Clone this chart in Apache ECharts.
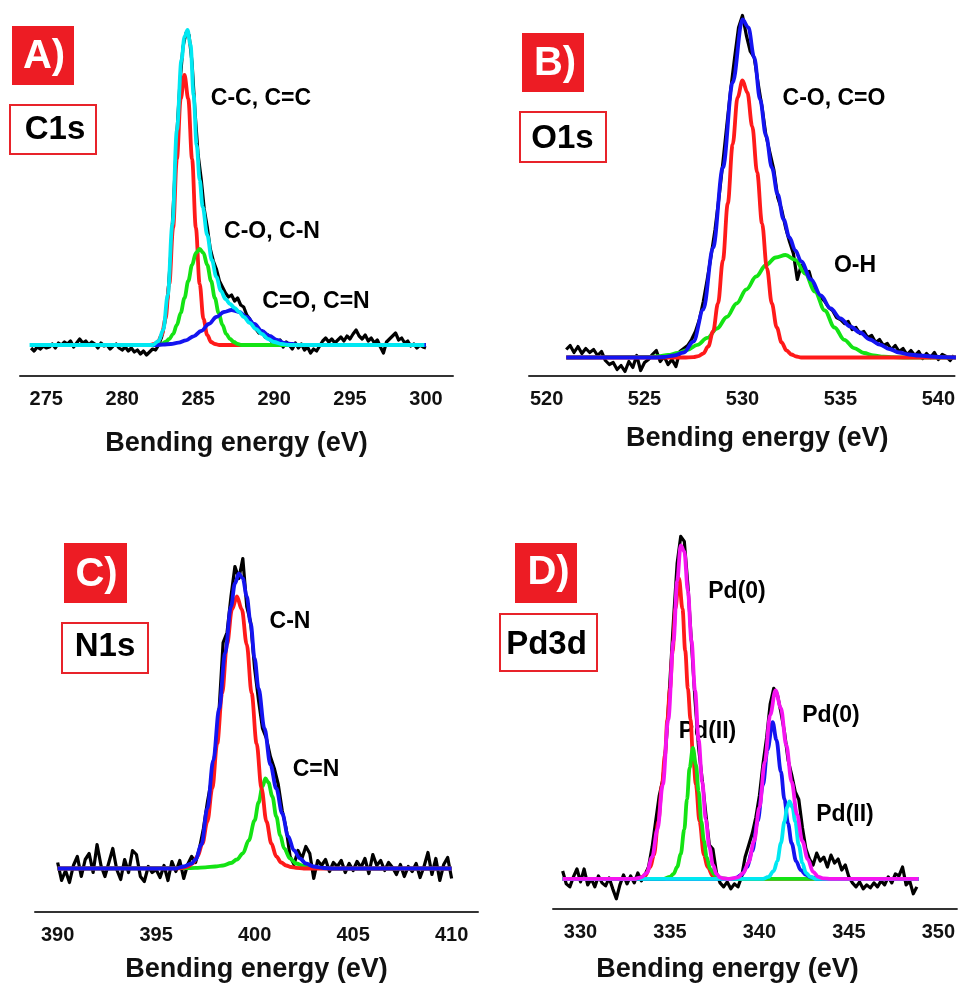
<!DOCTYPE html>
<html>
<head>
<meta charset="utf-8">
<title>XPS spectra</title>
<script src="https://cdn.jsdelivr.net/npm/echarts@6.0.0/dist/echarts.min.js"></script>
<style>
html, body { margin: 0; padding: 0; background: #fff; }
#main { width: 958px; height: 984px; }
</style>
</head>
<body>
<div id="main"></div>
<script>
// ---- data (intensity in a.u., baseline = 0) ----
// raw spectra are sampled every 0.2 eV from the start energy
var c1sStart = 274, c1sStep = 0.2;
var c1sRaw = [-3, -6, -2, -4, -1, -3,
	-2, 1, -3, 2, 0,   3, 1, 4, -2, 2,   6, 2, 4, 0, 3,   1, -3, 2, -1, 0,
	-4, -1, 1, -3, -5,   -2, -6, -3, -7, -5,   -9, -6, -10, -7, -4,
	-5, 0, 8, 22, 48,   92, 150, 212, 262, 298,   312, 310, 282, 232, 190,
	166, 136, 118, 96, 84,   76, 64, 58, 52, 48,   50, 44, 47, 40, 38,
	30, 26, 20, 16, 12,   14, 8, 10, 4, 6,
	2, 5, -2, 3, 0,   -4, 2, -3, 1, -5,   -2, -8, -4, -6, -1,   4, 7, 3, 6, 2,
	5, 8, 4, 9, 6,   11, 15, 9, 6, 10,   4, 7, 2, 5, -2,   -8, 3, 6, 9, 12,
	5, 7, 2, 4, -1,   1, -3, 0, -2, -3];
var c1sCC = [[274, 0], [281.8, 0], [282.1, 1], [282.35, 3], [282.6, 10], [282.85, 26], [283.1, 61],
	[283.35, 117], [283.6, 186], [283.85, 246], [284.1, 270], [284.35, 246], [284.6, 186], [284.85, 117],
	[285.1, 61], [285.35, 26], [285.6, 10], [285.85, 3], [286.1, 1], [286.4, 0], [300, 0]];
var c1sCO = [[274, 0], [282.35, 0], [282.6, 1], [282.85, 3], [283.1, 6], [283.35, 11], [283.6, 20],
	[283.85, 32], [284.1, 47], [284.35, 64], [284.6, 80], [284.85, 92], [285.1, 96], [285.35, 92],
	[285.6, 80], [285.85, 64], [286.1, 47], [286.35, 32], [286.6, 20], [286.85, 11], [287.1, 6],
	[287.35, 3], [287.6, 1], [287.85, 0], [300, 0]];
var c1sCdO = [[274, 0], [282.2, 0], [282.7, 0.5], [283.2, 1], [283.7, 2.3], [284.2, 4.7], [284.7, 8.7],
	[285.2, 14], [285.7, 21], [286.2, 28], [286.7, 33], [287.2, 35], [287.7, 33], [288.2, 28],
	[288.7, 21], [289.2, 14], [289.7, 9], [290.2, 5], [290.7, 2], [291.2, 1], [291.7, 0], [300, 0]];
var c1sFit = [[273.9, 0], [282.0, 0], [282.4, 4], [282.7, 15], [283.0, 50], [283.3, 120], [283.6, 215],
	[283.9, 285], [284.1, 308], [284.3, 315], [284.5, 300], [284.7, 250], [284.9, 200], [285.1, 165],
	[285.3, 138], [285.6, 110], [285.9, 85], [286.2, 68], [286.5, 54], [286.8, 46], [287.1, 41],
	[287.4, 37], [287.7, 33], [288.0, 28], [288.4, 22], [288.8, 16], [289.2, 11], [289.6, 6],
	[290.0, 3], [290.5, 1], [291.0, 0], [299.9, 0]];

var o1sStart = 521, o1sStep = 0.2;
var o1sRaw = [8, 12, 5, 11, 4, 9, 5, 8, 2, 6,
	-3, -7, -5, -12, -8, -14, -4, -10, 2, -13,
	-5, -2, 3, 7, -4, 1, -7, -2, -9, 6,
	9, 12, 18, 26, 38, 56, 78, 102, 128, 160,
	195, 232, 268, 300, 330, 342, 322, 306, 300, 274,
	250, 222, 205, 188, 160, 148, 130, 116, 104, 78,
	92, 84, 86, 72, 66, 60, 56, 50, 47, 40,
	38, 34, 36, 28, 30, 24, 26, 20, 22, 15,
	18, 12, 14, 8, 12, 6, 9, 3, 7, 2,
	6, -1, 4, 0, 5, -2, 3, 1, -3, 2];
var o1sCO = [[521, 0], [527.0, 0], [527.5, 0.4], [527.75, 1.4], [528.0, 4], [528.25, 11], [528.5, 26],
	[528.75, 54], [529.0, 97], [529.25, 154], [529.5, 213], [529.75, 260], [530.0, 277], [530.25, 265],
	[530.5, 231], [530.75, 185], [531.0, 134], [531.25, 89], [531.5, 54], [531.75, 30], [532.0, 15],
	[532.25, 7], [532.5, 3], [532.75, 1], [533.0, 0], [540.9, 0]];
var o1sOH = [[521, 0], [525.2, 0.6], [525.7, 1.3], [526.2, 2.5], [526.7, 4.5], [527.2, 7.7], [527.7, 12.6],
	[528.2, 19.6], [528.7, 29], [529.2, 40.5], [529.7, 54], [530.2, 68], [530.7, 81], [531.2, 92.5],
	[531.7, 100], [532.2, 102.5], [532.7, 97.6], [533.2, 84], [533.7, 66], [534.2, 47], [534.7, 30],
	[535.2, 17.7], [535.7, 9.4], [536.2, 4.5], [536.7, 2], [537.2, 0.8], [537.7, 0.3], [538.2, 0], [540.9, 0]];
var o1sFit = [[521, 0], [525.5, 0], [526.0, 0.5], [526.5, 2], [527.0, 5], [527.5, 16], [528.0, 48],
	[528.5, 110], [529.0, 190], [529.5, 275], [530.0, 338], [530.3, 330], [530.6, 300], [530.9, 258],
	[531.2, 222], [531.5, 190], [531.8, 163], [532.1, 138], [532.4, 120], [532.7, 107], [533.0, 96],
	[533.5, 78], [534.0, 62], [534.5, 49], [535.0, 39], [535.5, 31], [536.0, 25], [536.5, 18],
	[537.0, 13], [537.5, 8.5], [538.0, 5], [538.5, 3], [539.0, 2], [540.0, 0.5], [540.9, 0]];

var n1sStart = 390, n1sStep = 0.2;
var n1sRaw = [6, -12, -2, -14, 3, 12, -8, 9, 15, -4,
	24, 3, -8, 6, 20, -1, -11, 9, -4, 18,
	14, -8, -13, 2, -4, -1, -9, 3, -12, 7,
	-3, 8, -10, 4, 12, 6, 20, 40, 66, 88,
	118, 160, 226, 236, 272, 302, 290, 310, 262, 246,
	200, 168, 140, 130, 112, 100, 84, 58, 40, 12,
	4, 18, 10, 22, 15, -10, 8, 3, 9, -3,
	6, 2, 8, -4, 5, -2, 7, 1, 10, -5,
	14, 3, 8, -2, 6, 1, -6, 4, -8, 2,
	-3, 5, -9, 2, 16, -6, 10, -12, 4, 11,
	-10];
var n1sCN = [[390, 0], [396.1, 0.2], [396.35, 0.7], [396.6, 2], [396.85, 5], [397.1, 12], [397.35, 25],
	[397.6, 47], [397.85, 80], [398.1, 125], [398.35, 175], [398.6, 224], [398.85, 259], [399.1, 272],
	[399.35, 259], [399.6, 224], [399.85, 175], [400.1, 125], [400.35, 80], [400.6, 47], [400.85, 25],
	[401.1, 12], [401.35, 6], [401.6, 3], [401.85, 1.5], [402.1, 0.7], [402.5, 0], [410, 0]];
var n1sCdN = [[390, 0], [396.5, 0.3], [397.0, 0.6], [397.5, 1.2], [398.0, 2], [398.4, 3], [398.8, 5.5],
	[399.1, 9], [399.4, 15], [399.7, 28], [400.0, 48], [400.2, 66], [400.4, 82], [400.55, 90],
	[400.7, 86], [400.9, 72], [401.1, 52], [401.3, 33], [401.5, 20], [401.8, 10], [402.1, 5],
	[402.5, 2.5], [403.0, 1], [403.5, 0.5], [404.0, 0], [410, 0]];
var n1sFit = [[390, 0], [396.0, 0], [396.4, 2], [396.8, 5], [397.0, 9], [397.3, 24], [397.6, 60],
	[397.9, 108], [398.2, 160], [398.5, 215], [398.8, 262], [399.0, 285], [399.2, 295], [399.4, 290],
	[399.6, 272], [399.8, 245], [400.0, 210], [400.2, 180], [400.5, 140], [400.8, 104], [401.1, 80],
	[401.4, 55], [401.7, 32], [402.0, 18], [402.3, 10], [402.6, 5], [403.0, 2], [403.5, 0.5],
	[404.0, 0], [410, 0]];

var pdStart = 329, pdStep = 0.2;
var pdRaw = [8, -5, -8, 2, 10, -3, 10, -6, 0, -8,
	3, -4, -7, 1, -10, -20, -6, 4, -5, 3,
	-4, 6, -2, 4, 12, 32, 58, 84, 100, 140,
	200, 262, 318, 345, 340, 296, 238, 180, 132, 100,
	66, 34, 30, 6, -4, -8, -3, -10, -5, -8,
	2, 22, 34, 46, 62, 84, 116, 142, 176, 192,
	186, 168, 148, 120, 105, 88, 80, 52, 30, 20,
	14, 26, 18, 22, 12, 24, 16, 20, 9, 14,
	2, -4, -8, -3, -10, -6, -9, -4, -8, -2,
	-6, 2, -4, 5, 3, 12, -6, -2, -15, -8];
var pd0a = [[329, 0], [333.2, 0], [333.6, 3], [333.9, 12], [334.1, 24], [334.35, 58], [334.55, 95],
	[334.72, 125], [334.85, 160], [335.0, 192], [335.15, 230], [335.3, 272], [335.5, 303], [335.7, 272],
	[335.85, 230], [336.0, 192], [336.15, 160], [336.28, 125], [336.45, 95], [336.65, 58], [336.9, 24],
	[337.1, 12], [337.4, 3], [337.8, 0], [348.9, 0]];
var pd2a = [[329, 0], [334.6, 0], [335.0, 2], [335.2, 5], [335.4, 12], [335.6, 25], [335.8, 50],
	[335.95, 80], [336.1, 112], [336.28, 132], [336.45, 115], [336.6, 88], [336.75, 58], [336.9, 38],
	[337.05, 22], [337.25, 10], [337.5, 4], [337.8, 1], [338.2, 0], [348.9, 0]];
var pd0b = [[329, 0], [338.6, 0], [339.0, 4], [339.3, 12], [339.6, 28], [339.9, 58], [340.2, 95],
	[340.45, 130], [340.74, 158], [340.95, 140], [341.2, 108], [341.4, 80], [341.6, 56], [341.8, 36],
	[342.05, 18], [342.3, 9], [342.6, 4], [342.9, 1.5], [343.3, 0], [348.9, 0]];
var pd2b = [[329, 0], [340.2, 0], [340.5, 2], [340.8, 8], [341.0, 18], [341.2, 36], [341.4, 58],
	[341.55, 72], [341.68, 78], [341.85, 72], [342.0, 58], [342.2, 34], [342.4, 16], [342.6, 6],
	[342.85, 2], [343.2, 0], [348.9, 0]];
var pdFit = [[329, 0], [333.0, 0], [333.4, 1.5], [333.7, 6], [334.0, 22], [334.3, 50], [334.6, 95],
	[334.9, 160], [335.2, 240], [335.4, 300], [335.6, 336], [335.8, 330], [336.0, 290], [336.2, 240],
	[336.4, 190], [336.6, 140], [336.8, 98], [337.0, 60], [337.2, 32], [337.4, 14], [337.6, 5],
	[337.8, 1.5], [338.0, 0.5], [338.3, 0], [338.8, 1.5], [339.1, 6], [339.4, 17], [339.7, 38],
	[340.0, 72], [340.3, 118], [340.6, 165], [340.9, 190], [341.2, 172], [341.5, 135], [341.8, 98],
	[342.1, 65], [342.4, 38], [342.7, 20], [343.0, 7], [343.3, 2], [343.6, 0.5], [344.0, 0], [348.9, 0]];

var c1sTicks = [275, 280, 285, 290, 295, 300];
var o1sTicks = [520, 525, 530, 535, 540];
var n1sTicks = [390, 395, 400, 405, 410];
var pdTicks = [330, 335, 340, 345, 350];

// ---- chart ----
var FONT = '"Liberation Sans", Arial, sans-serif';
var RED = '#ff1a1a', GREEN = '#14e314', BLUE = '#1414f0', CYAN = '#00e8f2', MAGENTA = '#f514f0';

var myChart = echarts.init(document.getElementById("main"), null, { renderer: "canvas" });

function rawSeries(idx, start, step, values) {
	var data = values.map(function (v, i) { return [+(start + i * step).toFixed(2), v]; });
	return {
		type: "line", xAxisIndex: idx, yAxisIndex: idx, data: data,
		symbol: "none", silent: true,
		lineStyle: { color: "#000", width: 3.2, join: "round" }
	};
}

function fitSeries(idx, data, color) {
	return {
		type: "line", xAxisIndex: idx, yAxisIndex: idx, data: data,
		symbol: "none", silent: true, smooth: 0.35, smoothMonotone: "x",
		lineStyle: { color: color, width: 3.8 }
	};
}

// name padding shifts the axis title sideways where the original is off-centre
function energyAxis(idx, min, max, ticks, nameGap, namePadding) {
	return {
		type: "value", gridIndex: idx, min: min, max: max,
		name: "Bending energy (eV)", nameLocation: "middle", nameGap: nameGap,
		nameTextStyle: { fontSize: 27, fontWeight: "bold", color: "#111", fontFamily: FONT, padding: namePadding || 0 },
		axisLine: { show: true, onZero: false, lineStyle: { color: "#333", width: 2 } },
		axisTick: { show: false },
		splitLine: { show: false },
		axisLabel: { customValues: ticks, margin: 13, fontSize: 20, fontWeight: "bold", color: "#111", fontFamily: FONT }
	};
}

function hiddenAxis(idx, min, max) {
	return { type: "value", gridIndex: idx, min: min, max: max, show: false, splitLine: { show: false } };
}

function tagBox(x, y, w, h, label, cx, cy) {
	return [
		{ type: "rect", shape: { x: x, y: y, width: w, height: h }, style: { fill: "#ed1c24" } },
		{ type: "text", x: cx, y: cy, style: { text: label, fill: "#fff", fontSize: 40, fontWeight: "bold", fontFamily: FONT, align: "center", verticalAlign: "middle" } }
	];
}

function coreBox(x, y, w, h, label, cx, cy) {
	return [
		{ type: "rect", shape: { x: x, y: y, width: w, height: h }, style: { fill: "#fff", stroke: "#e8232a", lineWidth: 2 } },
		{ type: "text", x: cx, y: cy, style: { text: label, fill: "#000", fontSize: 33, fontWeight: "bold", fontFamily: FONT, align: "center", verticalAlign: "middle" } }
	];
}

function note(label, cx, cy) {
	return { type: "text", x: cx, y: cy, style: { text: label, fill: "#000", fontSize: 23, fontWeight: "bold", fontFamily: FONT, align: "center", verticalAlign: "middle" } };
}

var graphics = [].concat(
	tagBox(12, 26, 62, 59, "A)", 44, 57), coreBox(10, 105, 86, 49, "C1s", 55, 130),
	tagBox(522, 33, 62, 59, "B)", 555, 63.5), coreBox(520, 112, 86, 50, "O1s", 562.5, 138.5),
	tagBox(64, 543, 63, 60, "C)", 96.5, 575), coreBox(62, 623, 86, 50, "N1s", 105, 647),
	tagBox(515, 543, 62, 60, "D)", 548.5, 573), coreBox(500, 614, 97, 57, "Pd3d", 546.5, 645),
	[
		note("C-C, C=C", 261, 98.5), note("C-O, C-N", 272, 232), note("C=O, C=N", 316, 301.5),
		note("C-O, C=O", 834, 99), note("O-H", 855, 266),
		note("C-N", 290, 621.5), note("C=N", 316, 770),
		note("Pd(0)", 737, 591.5), note("Pd(II)", 707.5, 732), note("Pd(0)", 831, 715.5), note("Pd(II)", 845, 814.5)
	]
);

var option = {
	animation: false,
	backgroundColor: "#fff",
	textStyle: { fontFamily: FONT },
	grid: [
		{ left: 20, top: 10, width: 433, height: 366 },
		{ left: 529, top: 10, width: 429, height: 366 },
		{ left: 35, top: 500, width: 443, height: 412 },
		{ left: 553, top: 500, width: 405, height: 412 }
	],
	xAxis: [
		energyAxis(0, 273.27, 301.78, c1sTicks, 54),
		energyAxis(1, 519.1, 540.83, o1sTicks, 49, [0, 0, 0, 31]),
		energyAxis(2, 388.85, 411.34, n1sTicks, 44),
		energyAxis(3, 328.46, 351.04, pdTicks, 47, [0, 55, 0, 0])
	],
	yAxis: [
		hiddenAxis(0, -31, 335),
		hiddenAxis(1, -18.5, 347.5),
		hiddenAxis(2, -43.5, 368.5),
		hiddenAxis(3, -30.3, 381.7)
	],
	graphic: graphics,
	series: [
		rawSeries(0, c1sStart, c1sStep, c1sRaw),
		fitSeries(0, c1sCC, RED),
		fitSeries(0, c1sCO, GREEN),
		fitSeries(0, c1sCdO, BLUE),
		fitSeries(0, c1sFit, CYAN),

		rawSeries(1, o1sStart, o1sStep, o1sRaw),
		fitSeries(1, o1sOH, GREEN),
		fitSeries(1, o1sCO, RED),
		fitSeries(1, o1sFit, BLUE),

		rawSeries(2, n1sStart, n1sStep, n1sRaw),
		fitSeries(2, n1sCdN, GREEN),
		fitSeries(2, n1sCN, RED),
		fitSeries(2, n1sFit, BLUE),

		rawSeries(3, pdStart, pdStep, pdRaw),
		fitSeries(3, pd0a, RED),
		fitSeries(3, pd2a, GREEN),
		fitSeries(3, pd0b, BLUE),
		fitSeries(3, pd2b, CYAN),
		fitSeries(3, pdFit, MAGENTA)
	]
};

myChart.setOption(option);
</script>
</body>
</html>
